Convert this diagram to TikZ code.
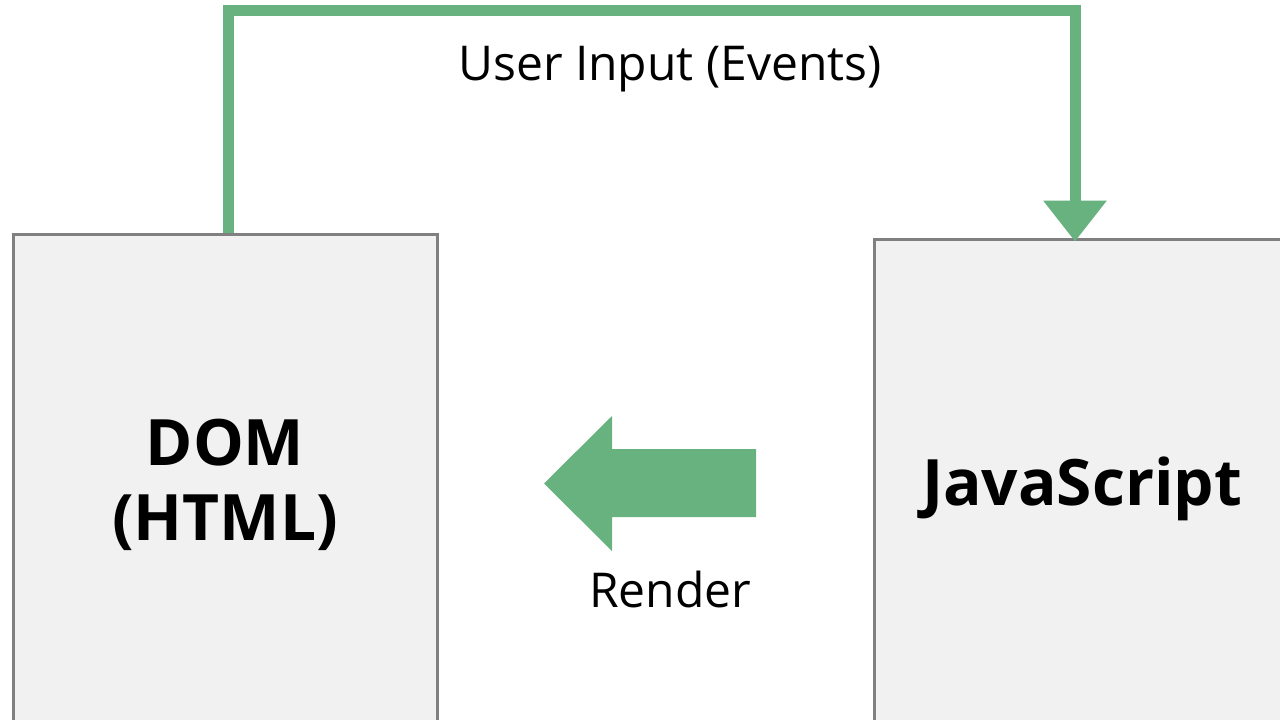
\documentclass[tikz,border=0pt]{standalone}
\usepackage{fontspec}
\setmainfont{Open Sans}
\usepackage{tikz}
\usetikzlibrary{arrows.meta}
\definecolor{flowgreen}{RGB}{104,178,128}
\definecolor{boxgray}{RGB}{241,241,241}
\definecolor{rimgray}{RGB}{128,128,128}
\tikzset{box/.style={rectangle,draw=rimgray,fill=boxgray,line width=3pt,inner sep=0pt,
    align=center,font=\bfseries\fontsize{64}{75}\selectfont}}
\tikzset{lbl/.style={anchor=base,inner sep=0pt,font=\fontsize{48}{56}\selectfont}}
\tikzset{flow/.style={flowgreen,line width=11pt,-{Triangle[width=61pt,length=41pt]}}}

\begin{document}
\begin{tikzpicture}[x=1pt,y=-1pt]
      \clip (0,0) rectangle (1280,720);
      \fill[white] (0,0) rectangle (1280,720);
      \node[box,minimum width=424pt,minimum height=501pt] (DOM) at (225,484.5) {DOM\\(HTML)};
      \node[box,minimum width=416pt,minimum height=499pt] (JS) at (1082,488.5) {JavaScript};
      \draw[flow] ([xshift=3.5pt]DOM.north) -- ++(0,-222) -| ([xshift=-7pt,yshift=-4pt]JS.north);
      \node[lbl] (input) at (670,80) {User Input (Events)};
      % render arrow
      \fill[flowgreen] (544,483.5) -- (612,416) -- (612,449) -- (756,449)
        -- (756,517) -- (612,517) -- (612,551) -- cycle;
      \node[lbl] (render) at (670,607) {Render};
    \end{tikzpicture}
\end{document}
